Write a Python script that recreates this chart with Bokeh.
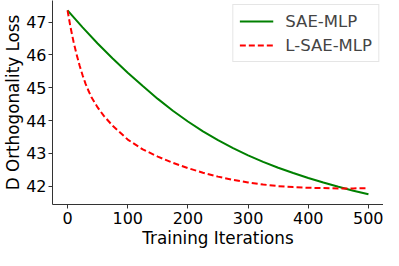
from bokeh.plotting import figure
from bokeh.models import Range1d, Legend, LegendItem, FixedTicker
from bokeh.embed import file_html
from bokeh.resources import INLINE

sae_iters = [0, 25, 50, 75, 100, 125, 150, 175, 200, 225, 250, 275, 300,
             325, 350, 375, 400, 425, 450, 475, 500]
sae_loss = [47.36, 46.84, 46.35, 45.89, 45.46, 45.05, 44.66, 44.30, 43.97,
            43.67, 43.40, 43.16, 42.94, 42.74, 42.56, 42.40, 42.25, 42.11,
            41.98, 41.86, 41.75]

lsae_iters = [0, 5, 10, 15, 20, 25, 30, 35, 40, 50, 60, 75, 100, 125, 150,
              175, 200, 225, 250, 275, 300, 325, 350, 375, 400, 425, 450,
              475, 500]
lsae_loss = [47.36, 46.84, 46.40, 46.02, 45.68, 45.38, 45.12, 44.90, 44.70,
             44.40, 44.15, 43.84, 43.42, 43.12, 42.90, 42.71, 42.55, 42.41,
             42.29, 42.19, 42.11, 42.05, 42.00, 41.97, 41.95, 41.94, 41.93,
             41.93, 41.94]

x_ticks = [0, 100, 200, 300, 400, 500]
y_ticks = [42, 43, 44, 45, 46, 47]
x_label = "Training Iterations"
y_label = "D Orthogonality Loss"
series_names = ["SAE-MLP", "L-SAE-MLP"]

FONT = "DejaVu Sans"

p = figure(width=383, height=250, output_backend="svg", toolbar_location=None,
           x_range=Range1d(-25, 525), y_range=Range1d(41.44, 47.66),
           min_border_left=0, min_border_right=0, min_border_top=0,
           min_border_bottom=0)
p.outline_line_color = None
p.grid.visible = False
p.background_fill_color = "white"
p.border_fill_color = "white"

r1 = p.line(sae_iters, sae_loss, line_color="green", line_width=2)
r2 = p.line(lsae_iters, lsae_loss, line_color="red", line_width=2,
            line_dash="6 3")

for ax in (p.xaxis[0], p.yaxis[0]):
    ax.axis_line_color = "#333333"
    ax.axis_line_width = 1
    ax.major_tick_line_color = "#333333"
    ax.major_tick_out = 4
    ax.major_tick_in = 0
    ax.minor_tick_line_color = None
    ax.major_label_text_font = FONT
    ax.major_label_text_font_size = "16px"
    ax.major_label_text_color = "black"
    ax.major_label_text_line_height = 1.0
    ax.axis_label_text_font = FONT
    ax.axis_label_text_font_size = "16.8px"
    ax.axis_label_text_font_style = "normal"
    ax.axis_label_text_color = "black"
    ax.axis_label_text_line_height = 1.0

p.xaxis[0].ticker = FixedTicker(ticks=x_ticks)
p.yaxis[0].ticker = FixedTicker(ticks=y_ticks)
p.xaxis[0].axis_label = x_label
p.yaxis[0].axis_label = y_label
p.xaxis[0].major_label_standoff = 3
p.yaxis[0].major_label_standoff = 2
p.xaxis[0].axis_label_standoff = 1
p.yaxis[0].axis_label_standoff = 0

legend = Legend(items=[LegendItem(label=series_names[0], renderers=[r1]),
                       LegendItem(label=series_names[1], renderers=[r2])],
                location="top_right")
legend.label_text_font = FONT
legend.label_text_font_size = "16.5px"
legend.border_line_color = "#cccccc"
legend.border_line_width = 1
legend.background_fill_alpha = 0.8
legend.glyph_width = 34
legend.label_standoff = 12
legend.spacing = 4
legend.padding = 6
legend.margin = 4
p.add_layout(legend)

open("out.html", "w").write(file_html(p, INLINE))
